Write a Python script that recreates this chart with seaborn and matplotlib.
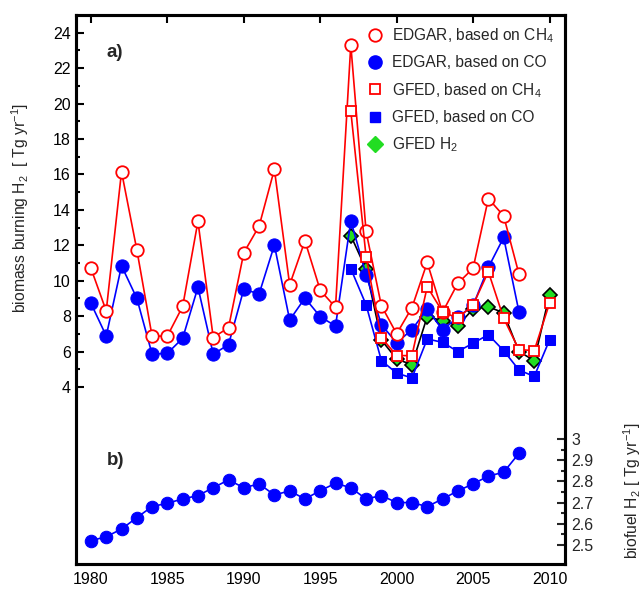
import numpy as np
import matplotlib
matplotlib.use("Agg")
import matplotlib.pyplot as plt
from matplotlib.lines import Line2D
from matplotlib.ticker import MultipleLocator
import seaborn as sns

# values
years_edgar = list(range(1980, 2009))
edgar_ch4 = [10.70, 8.29, 16.16, 11.75, 6.86, 6.88, 8.55, 13.35, 6.79, 7.35,
             11.58, 13.08, 16.29, 9.77, 12.25, 9.46, 8.50, 23.32, 12.78, 8.59,
             7.00, 8.48, 11.03, 8.22, 9.85, 10.70, 14.64, 13.66, 10.38]
edgar_co = [8.72, 6.88, 10.84, 9.01, 5.85, 5.90, 6.75, 9.63, 5.85, 6.39,
            9.52, 9.25, 12.01, 7.78, 9.02, 7.97, 7.44, 13.38, 10.34, 7.52,
            6.49, 7.24, 8.40, 7.22, 7.93, 8.60, 10.75, 12.44, 8.25]

years_gfed = list(range(1997, 2011))
gfed_ch4 = [19.58, 11.36, 6.79, 5.77, 5.77, 9.66, 8.25, 7.88, 8.63, 10.51, 7.88, 6.11, 6.05, 8.72]
gfed_co = [10.68, 8.64, 5.49, 4.78, 4.51, 6.71, 6.52, 6.00, 6.47, 6.95, 6.05, 4.96, 4.59, 6.65]
gfed_h2 = [12.55, 10.64, 6.65, 5.58, 5.25, 7.97, 7.74, 7.46, 8.40, 8.53, 8.18, 6.00, 5.49, 9.21]

years_biofuel = list(range(1980, 2009))
biofuel_h2 = [2.520, 2.539, 2.575, 2.629, 2.681, 2.697, 2.717, 2.733, 2.770, 2.807,
              2.770, 2.788, 2.736, 2.755, 2.717, 2.756, 2.791, 2.770, 2.717, 2.733,
              2.700, 2.700, 2.681, 2.717, 2.755, 2.788, 2.825, 2.843, 2.932]

legend_labels = ["EDGAR, based on CH$_4$", "EDGAR, based on CO",
                 "GFED, based on CH$_4$", "GFED, based on CO", "GFED H$_2$"]

sns.set_theme(style="white")
plt.rcParams['font.family'] = ['Liberation Sans', 'DejaVu Sans']
plt.rcParams['mathtext.fontset'] = 'custom'
plt.rcParams['mathtext.rm'] = 'Liberation Sans'

fig = plt.figure(figsize=(6.44, 5.89), dpi=100)
ax = fig.add_axes([0.1175, 0.0424, 0.7595, 0.932])

lw = 1.2
sns.lineplot(x=years_gfed, y=gfed_h2, color='black', lw=lw, marker='D', markersize=7,
             markerfacecolor='#22dd22', markeredgecolor='black', markeredgewidth=1.2, ax=ax)
sns.lineplot(x=years_gfed, y=gfed_co, color='blue', lw=lw, marker='s', markersize=6.5,
             markeredgecolor='blue', ax=ax)
sns.lineplot(x=years_edgar, y=edgar_co, color='blue', lw=lw, marker='o', markersize=9.5,
             markeredgecolor='blue', ax=ax)
sns.lineplot(x=years_edgar, y=edgar_ch4, color='red', lw=lw, marker='o', markersize=9,
             markerfacecolor='white', markeredgecolor='red', markeredgewidth=1.3, ax=ax)
sns.lineplot(x=years_gfed, y=gfed_ch4, color='red', lw=lw, marker='s', markersize=6.5,
             markerfacecolor='white', markeredgecolor='red', markeredgewidth=1.3, ax=ax)

ax.set_xlim(1979, 2011)
ax.set_ylim(-6, 25)
ax.set_xticks(range(1980, 2011, 5))
ax.set_yticks(range(4, 25, 2))
ax.yaxis.set_minor_locator(MultipleLocator(1))
ax.set_yticks(range(5, 24, 2), minor=True)
ax.tick_params(axis='both', which='both', direction='in', labelsize=11.5,
               top=True, right=True, width=1.5, colors='black')
ax.tick_params(which='major', length=6)
ax.tick_params(which='minor', length=3)
ax.tick_params(axis='x', pad=6)
for s in ax.spines.values():
    s.set_linewidth(2.2)
    s.set_color('black')

# biofuel panel on the twin axis
ax2 = ax.twinx()
sns.lineplot(x=years_biofuel, y=biofuel_h2, color='blue', lw=lw, marker='o', markersize=9,
             markeredgecolor='blue', ax=ax2)
ax2.set_ylim(2.41, 5.0)
ax2.set_yticks([2.5, 2.6, 2.7, 2.8, 2.9, 3.0])
ax2.set_yticklabels(['2.5', '2.6', '2.7', '2.8', '2.9', '3'])
ax2.set_yticks(np.arange(2.55, 3.0, 0.1), minor=True)
ax2.tick_params(axis='y', which='both', direction='in', labelsize=11.5, width=1.5, pad=5)
ax2.tick_params(which='major', length=6)
ax2.tick_params(which='minor', length=3)
ax2.set_ylabel('')
ax.set_ylabel('')
for s in ax2.spines.values():
    s.set_linewidth(2.2)
    s.set_color('black')

ax.text(0.064, 0.931, 'a)', transform=ax.transAxes, fontsize=13.5, fontweight='bold', va='center')
ax.text(0.064, 0.189, 'b)', transform=ax.transAxes, fontsize=13.5, fontweight='bold', va='center')

fig.text(0.031, 0.647, 'biomass burning H$_2$  [ Tg yr$^{-1}$]', rotation=90,
         ha='center', va='center', fontsize=11.3)
fig.text(0.981, 0.166, 'biofuel H$_2$ [ Tg yr$^{-1}$]', rotation=90,
         ha='center', va='center', fontsize=11.3)

handles = [
    Line2D([], [], ls='none', marker='o', markersize=9, markerfacecolor='white',
           markeredgecolor='red', markeredgewidth=1.3),
    Line2D([], [], ls='none', marker='o', markersize=9.5, color='blue'),
    Line2D([], [], ls='none', marker='s', markersize=6.5, markerfacecolor='white',
           markeredgecolor='red', markeredgewidth=1.3),
    Line2D([], [], ls='none', marker='s', markersize=6.5, color='blue'),
    Line2D([], [], ls='none', marker='D', markersize=8, color='#22dd22'),
]
ax2.legend(handles, legend_labels, loc='upper left', bbox_to_anchor=(0.597, 0.980),
           frameon=False, fontsize=11.2, borderaxespad=0, borderpad=0,
           handlelength=1.0, handletextpad=0.55, labelspacing=0.68)

fig.savefig('out.png', dpi=100)
